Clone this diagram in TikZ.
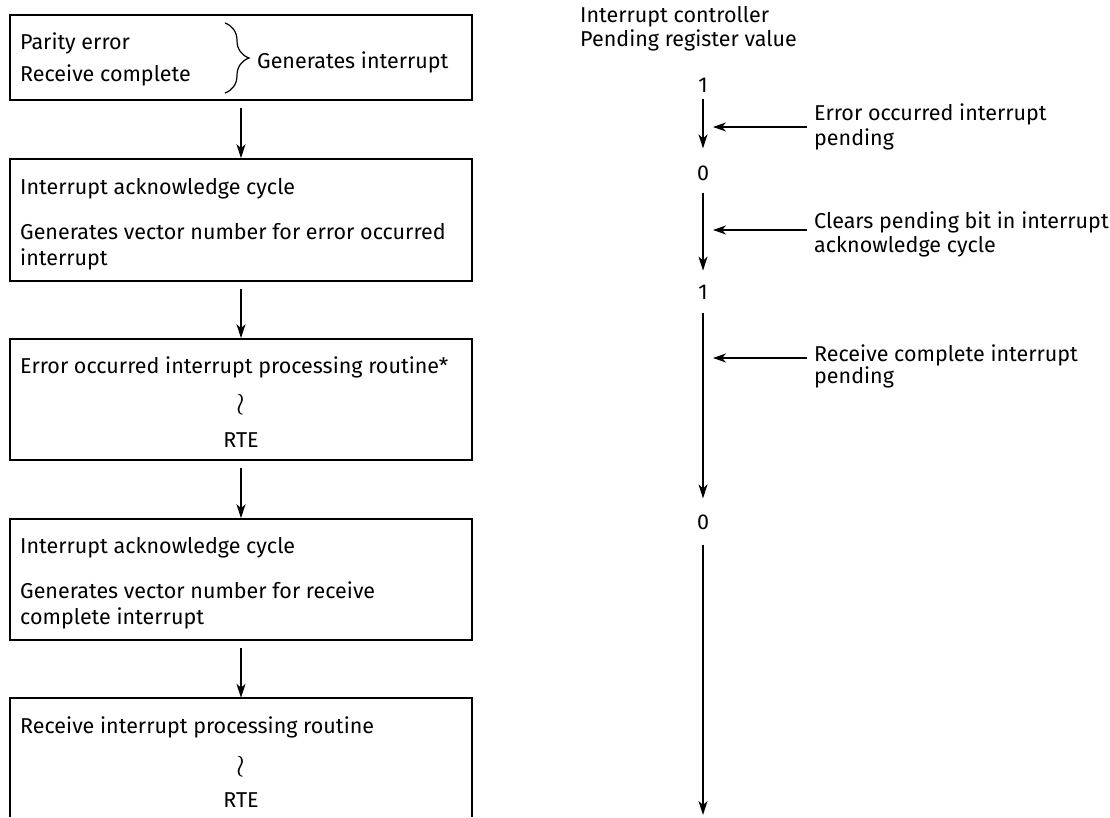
\documentclass[tikz,border=0pt]{standalone}
\usepackage{fontspec}
\setmainfont{Fira Sans}
\usetikzlibrary{arrows.meta,decorations.pathreplacing}
\begin{document}
\begin{tikzpicture}[x=1pt,y=-1pt,
  box/.style={draw, line width=1.6pt, minimum width=462pt, inner sep=0pt},
  txt/.style={anchor=west, inner sep=0pt, font=\fontsize{21.5}{26}\selectfont, align=left},
  ctr/.style={inner sep=0pt, font=\fontsize{21.5}{26}\selectfont},
  arr/.style={line width=1.5pt, -{Stealth[length=14pt,width=9pt,inset=4pt]}},
  ptr/.style={line width=1.3pt, -{Stealth[length=13pt,width=9pt,inset=4pt]}}]
\useasboundingbox (0,0) rectangle (1110,817);
% boxes
\node[box, minimum height=85pt]  (b1) at (241,57.5) {};
\node[box, minimum height=122pt] (b2) at (241,220) {};
\node[box, minimum height=121pt] (b3) at (241,399.5) {};
\node[box, minimum height=121pt] (b4) at (241,579.5) {};
\node[minimum width=462pt, minimum height=119pt, inner sep=0pt] (b5) at (241,757.5) {};
\draw[line width=1.6pt] (b5.south west) -- (b5.north west) -- (b5.north east) -- (b5.south east);
% box texts
\node[txt] (t11) at (20,43) {Parity error};
\node[txt] (t12) at (20,75) {Receive complete};
\draw[line width=1.2pt, decorate, decoration={brace, amplitude=24pt}] (225,23) -- (225,93);
\node[txt] (t13) at (257,62) {Generates interrupt};
\node[txt] (t21) at (20,189) {Interrupt acknowledge cycle};
\node[txt] (t22) at (20,247) {Generates vector number for error occurred\\interrupt};
\node[txt] (t31) at (20,367) {Error occurred interrupt processing routine*};
\node[ctr] (t32) at (241,405) {\scalebox{1.5}{$\wr$}};
\node[ctr] (t33) at (241,440) {RTE};
\node[txt] (t41) at (20,548) {Interrupt acknowledge cycle};
\node[txt] (t42) at (20,605) {Generates vector number for receive\\complete interrupt};
\node[txt] (t51) at (20,727) {Receive interrupt processing routine};
\node[ctr] (t52) at (241,767) {\scalebox{1.5}{$\wr$}};
\node[ctr] (t53) at (241,800) {RTE};
% left arrows
\draw[arr] ([yshift=-7pt]b1.south) -- (b2.north);
\draw[arr] ([yshift=-7pt]b2.south) -- (b3.north);
\draw[arr] ([yshift=-7pt]b3.south) -- (b4.north);
\draw[arr] ([yshift=-7pt]b4.south) -- (b5.north);
% right column
\node[txt, font=\fontsize{21.5}{24}\selectfont] (h) at (580,29) {Interrupt controller\\Pending register value};
\node[ctr] (v1) at (703,85) {1};
\node[ctr] (v2) at (703,173) {0};
\node[ctr] (v3) at (703,292) {1};
\node[ctr] (v4) at (703,522) {0};
\coordinate (vend) at (703,815);
\draw[arr, shorten <=7pt, shorten >=17pt] (v1) -- (v2);
\draw[arr, shorten <=12pt, shorten >=14pt] (v2) -- (v3);
\draw[arr, shorten <=14pt, shorten >=16pt] (v3) -- (v4);
\draw[arr, shorten <=15pt] (v4) -- (vend);
\node[txt, font=\fontsize{21.5}{25}\selectfont] (l1) at (814,127) {Error occurred interrupt\\pending};
\node[txt, font=\fontsize{21.5}{24}\selectfont] (l2) at (814,234) {Clears pending bit in interrupt\\acknowledge cycle};
\node[txt, font=\fontsize{21.5}{22}\selectfont] (l3) at (814,366) {Receive complete interrupt\\pending};
\coordinate (p1) at (713,127);
\coordinate (p2) at (713,230);
\coordinate (p3) at (713,358);
\draw[ptr] ([xshift=-7pt]l1.west) -- (p1);
\draw[ptr] ([xshift=-7pt]l2.west |- p2) -- (p2);
\draw[ptr] ([xshift=-7pt]l3.west |- p3) -- (p3);
\end{tikzpicture}
\end{document}
